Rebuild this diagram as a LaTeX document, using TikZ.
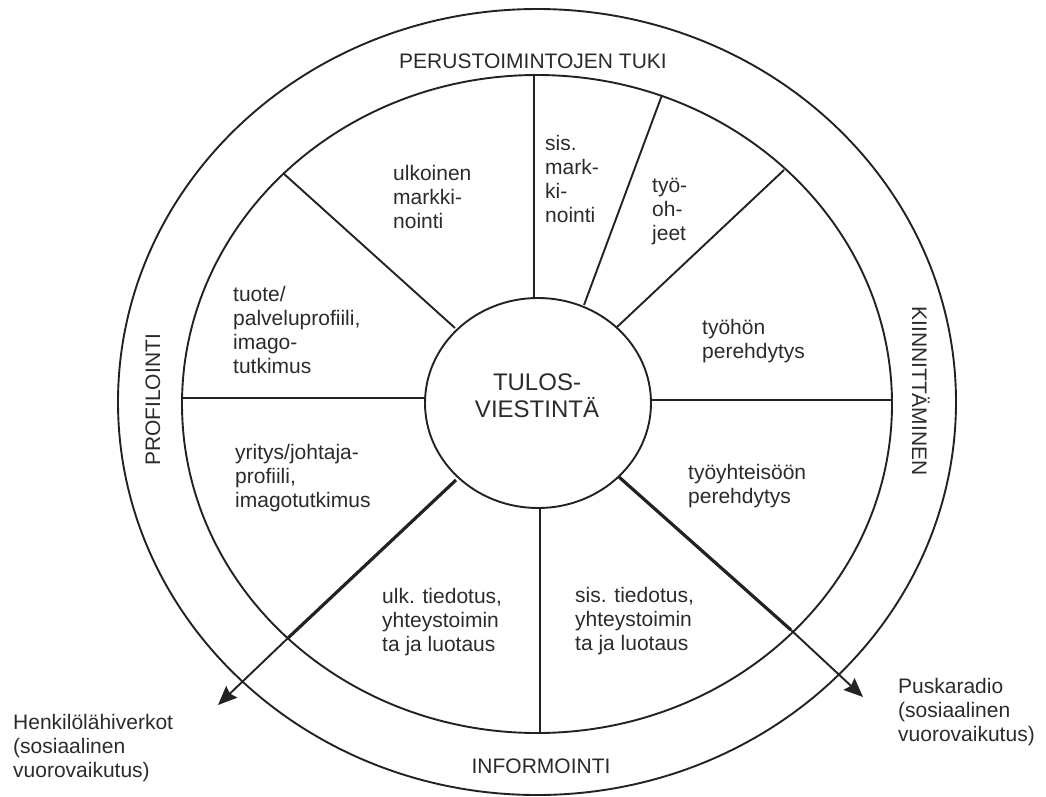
\documentclass[tikz,border=0pt]{standalone}
\usepackage{fontspec}
\setmainfont{Liberation Sans}
\usetikzlibrary{arrows.meta,shapes.geometric}
\definecolor{ink}{HTML}{222222}
\definecolor{type}{HTML}{2B2B2B}
\begin{document}
\begin{tikzpicture}[x=1pt,y=-1pt,
  ring/.style={draw=ink, line width=1.9pt},
  spoke/.style={draw=ink, line width=1.9pt},
  heavyspoke/.style={draw=ink, line width=3.2pt},
  pointer/.style={draw=ink, line width=1.9pt, -{Stealth[length=19pt,width=16pt,inset=2.5pt]}},
  % multi-line labels: the base anchor sits on the last line's baseline
  lbl/.style={text=type, font=\fontsize{21}{24}\selectfont, align=left, inner sep=0pt, anchor=base west},
  band/.style={text=type, font=\fontsize{21}{24}\selectfont, inner sep=0pt},
  hubtext/.style={text=type, font=\fontsize{24}{27}\selectfont, align=center, inner sep=0pt}
]
\useasboundingbox (0,0) rectangle (1046,796);

% rings
\draw[ring] (537,402) ellipse [x radius=419pt, y radius=393pt];
\draw[ring] (537,404) ellipse [x radius=355pt, y radius=329pt];
\node[ring, ellipse, minimum width=226pt, minimum height=210pt, inner sep=0pt] (hub) at (538,403) {};

% spoke end points: outer ends on the middle ring, inner ends on the hub
\coordinate (m1) at (534,75);    \coordinate (h1) at (534,298);
\coordinate (m2) at (662,95);    \coordinate (h2) at (584,305);
\coordinate (m3) at (784,170);   \coordinate (h3) at (617,327);
\coordinate (m4) at (892,400);   \coordinate (h4) at (651,400);
\coordinate (m5) at (791,630);   \coordinate (h5) at (619,477);
\coordinate (m6) at (540,733);   \coordinate (h6) at (540,508);
\coordinate (m7) at (288,638);   \coordinate (h7) at (456,480);
\coordinate (m8) at (182,398);   \coordinate (h8) at (425,398);
\coordinate (m9) at (283,173);   \coordinate (h9) at (455,328);
\coordinate (tipL) at (218,705);
\coordinate (tipR) at (863,697);

% spokes
\draw[spoke] (h1) -- (m1);
\draw[spoke] (h2) -- (m2);
\draw[spoke] (h3) -- (m3);
\draw[spoke] (h4) -- (m4);
\draw[heavyspoke] (h5) -- (m5);
\draw[spoke] (h6) -- (m6);
\draw[heavyspoke] (h7) -- (m7);
\draw[spoke] (h8) -- (m8);
\draw[spoke] (h9) -- (m9);

% outward arrows
\draw[pointer] (m7) -- (tipL);
\draw[pointer] (m5) -- (tipR);

% hub text
\node[hubtext] (hubtxt) at (537,396) {TULOS-\\VIESTINTÄ};

% band labels
\node[band, anchor=base] (perus) at (533,68) {PERUSTOIMINTOJEN TUKI};
\node[band, anchor=base] (inform) at (541,773) {INFORMOINTI};
\node[band, rotate=90] (profil) at (153,400) {PROFILOINTI};
\node[band, rotate=-90] (kiinn) at (921,391) {KIINNITTÄMINEN};

% sector labels
\node[lbl] (ulk) at (393,228) {ulkoinen\\markki-\\nointi};
\node[lbl] (sism) at (545,222) {sis.\\mark-\\ki-\\nointi};
\node[lbl] (tyo) at (652,240) {työ-\\oh-\\jeet};
\node[lbl] (tuote) at (233,373) {tuote/\\palveluprofiili,\\imago-\\tutkimus};
\node[lbl] (tyohon) at (702,358) {työhön\\perehdytys};
\node[lbl] (yritys) at (235,507) {yritys/johtaja-\\profiili,\\imagotutkimus};
\node[lbl] (yhteiso) at (688,503) {työyhteisöön\\perehdytys};
\node[lbl] (ulkt) at (382,651) {ulk. tiedotus,\\yhteystoimin\\ta ja luotaus};
\node[lbl] (sist) at (575,650) {sis. tiedotus,\\yhteystoimin\\ta ja luotaus};

% outside labels
\node[lbl] (henk) at (13,777) {Henkilölähiverkot\\(sosiaalinen\\vuorovaikutus)};
\node[lbl] (pusk) at (898,741) {Puskaradio\\(sosiaalinen\\vuorovaikutus)};
\end{tikzpicture}
\end{document}
